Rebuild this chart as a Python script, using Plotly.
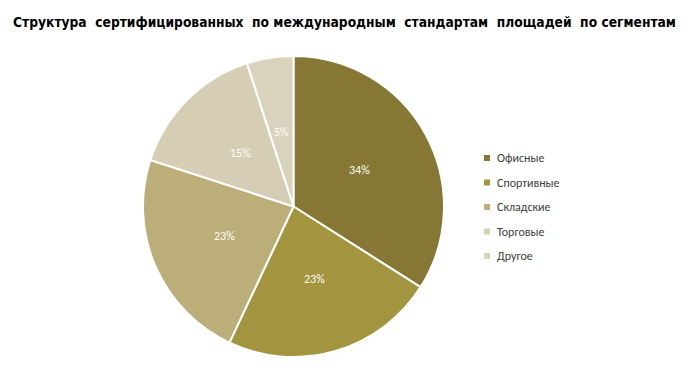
import math
import plotly.graph_objects as go

labels = ["Офисные", "Спортивные", "Складские", "Торговые", "Другое"]
values = [34, 23, 23, 15, 5]
colors = ["#867834", "#A39540", "#BBAE79", "#D5CDB4", "#D9D2BD"]
title = "Структура\u00a0 сертифицированных\u00a0 по международным\u00a0 стандартам\u00a0 площадей\u00a0 по сегментам"

W, H = 689, 367
cx, cy, R = 293.5, 206.5, 150.5
fig = go.Figure()
fig.add_trace(go.Pie(
    labels=labels, values=values, sort=False, direction="clockwise", rotation=0,
    marker=dict(colors=colors, line=dict(color="white", width=2)),
    textinfo="none",
    domain=dict(x=[(cx - R) / W, (cx + R) / W], y=[1 - (cy + R) / H, 1 - (cy - R) / H]),
    showlegend=False,
))

# percentage labels placed at half radius along each slice's mid-angle
total = sum(values)
cum = 0
for v in values:
    mid = (cum + v / 2) / total * 2 * math.pi
    cum += v
    px = cx + 0.5 * R * math.sin(mid)
    py = cy - 0.5 * R * math.cos(mid)
    fig.add_annotation(xref="paper", yref="paper", x=px / W, y=1 - py / H,
                       text=f"{round(v / total * 100)}%", showarrow=False,
                       xanchor="center", yanchor="middle",
                       font=dict(family="Carlito, Lato, sans-serif", size=12, color="#FFFFF5"))

# manual legend
leg_x = 487
leg_y0 = 158
leg_dy = 24.5
for i, (lab, col) in enumerate(zip(labels, colors)):
    yc = leg_y0 + i * leg_dy
    fig.add_shape(type="rect", xref="paper", yref="paper",
                  x0=(leg_x - 3) / W, x1=(leg_x + 3) / W,
                  y0=1 - (yc + 3) / H, y1=1 - (yc - 3) / H,
                  fillcolor=col, line=dict(width=0))
    fig.add_annotation(xref="paper", yref="paper", x=(leg_x + 8) / W, y=1 - yc / H,
                       text=lab, showarrow=False, xanchor="left", yanchor="middle",
                       font=dict(family="Carlito, Lato, sans-serif", size=12, color="#404040"))

fig.add_annotation(xref="paper", yref="paper", x=344 / W, y=1 - 22 / H, text="<b>" + title + "</b>",
                   showarrow=False, xanchor="center", yanchor="middle",
                   font=dict(family="Liberation Sans Narrow, DejaVu Sans Condensed, sans-serif", size=13.7, color="black"))

fig.update_layout(width=W, height=H, margin=dict(l=0, r=0, t=0, b=0),
                  paper_bgcolor="white", plot_bgcolor="white")
fig.write_html("out.html", config={"displayModeBar": False},
               post_script="document.body.style.margin='0';")
